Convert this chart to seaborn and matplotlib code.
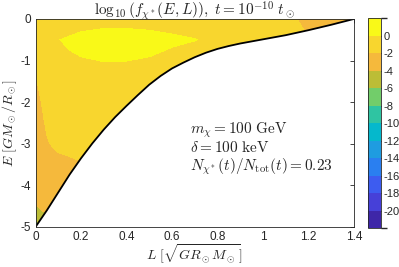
import numpy as np
import matplotlib
matplotlib.use("Agg")
import matplotlib.pyplot as plt
from matplotlib.colors import ListedColormap, BoundaryNorm
from matplotlib.patches import Polygon
import seaborn as sns

sns.set_theme(style="white")
plt.rcParams['font.family'] = ['Liberation Sans', 'DejaVu Sans']
plt.rcParams['mathtext.fontset'] = 'cm'

# ---- data ----
L_grid = [0, 0.05, 0.1, 0.15, 0.2, 0.3, 0.4, 0.5, 0.6, 0.7, 0.8, 0.9, 1.0, 1.1, 1.2, 1.3, 1.4]
E_grid = [-5, -4.75, -4.5, -4, -3.5, -3, -2.5, -2, -1.5, -1.25, -1, -0.75, -0.5, -0.25, 0]
row_m5_00 = [-7.0, -6.0, -5.0, -4.5, -4.0, -3.5, -3.0, -3.0, -3.0, -3.0, -3.0, -3.0, -3.0, -3.0, -3.0, -3.0, -3.0]
row_m4_75 = [-5.2, -4.2, -3.6, -3.4, -3.2, -3.0, -2.8, -2.8, -2.8, -2.8, -2.8, -2.8, -2.8, -2.8, -2.8, -2.8, -2.8]
row_m4_50 = [-4.1, -3.3, -3.0, -2.9, -2.8, -2.6, -2.5, -2.5, -2.5, -2.5, -2.5, -2.5, -2.5, -2.5, -2.5, -2.5, -2.5]
row_m4_00 = [-3.5, -3.0, -2.6, -2.5, -2.4, -2.2, -2.1, -2.1, -2.1, -2.1, -2.1, -2.1, -2.1, -2.1, -2.1, -2.1, -2.1]
row_m3_50 = [-3.0, -2.6, -2.4, -2.25, -2.1, -1.8, -1.6, -1.5, -1.5, -1.5, -1.5, -1.5, -1.5, -1.5, -1.5, -1.5, -1.5]
row_m3_00 = [-2.8, -2.1, -1.7, -1.6, -1.5, -1.3, -1.2, -1.2, -1.2, -1.2, -1.2, -1.2, -1.2, -1.2, -1.2, -1.2, -1.2]
row_m2_50 = [-2.6, -1.85, -1.5, -1.35, -1.2, -1.1, -1.1, -1.1, -1.1, -1.1, -1.1, -1.1, -1.1, -1.1, -1.1, -1.1, -1.1]
row_m2_00 = [-2.4, -1.6, -1.3, -1.15, -1.0, -0.9, -0.9, -1.0, -1.0, -1.0, -1.0, -1.0, -1.0, -1.0, -1.0, -1.0, -1.0]
row_m1_50 = [-2.1, -1.4, -1.1, -0.9, -0.8, -0.7, -0.7, -0.8, -1.0, -1.0, -1.0, -1.0, -1.0, -1.0, -1.0, -1.0, -1.0]
row_m1_25 = [-1.95, -1.3, -1.0, -0.8, -0.6, -0.4, -0.4, -0.6, -0.8, -1.0, -1.0, -1.0, -1.0, -1.0, -1.0, -1.0, -1.0]
row_m1_00 = [-1.8, -1.2, -1.0, -0.6, -0.17, 0.05, 0.02, -0.17, -0.5, -0.8, -1.0, -1.0, -1.0, -1.0, -1.2, -1.5, -1.5]
row_m0_75 = [-1.6, -1.2, -0.6, 0.0, 0.3, 0.5, 0.5, 0.3, -0.12, -0.4, -0.7, -0.9, -1.0, -1.2, -1.5, -2.0, -2.0]
row_m0_50 = [-1.4, -0.9, -0.05, 0.3, 0.5, 0.6, 0.6, 0.5, 0.3, 0.05, -0.4, -0.7, -0.9, -1.2, -1.8, -2.4, -2.6]
row_m0_25 = [-1.3, -1.0, -0.8, -0.55, -0.15, 0.05, 0.05, -0.05, -0.25, -0.45, -0.8, -0.9, -1.0, -1.3, -2.2, -2.6, -3.0]
row_p0_00 = [-1.2, -1.0, -0.8, -0.7, -0.6, -0.6, -0.6, -0.6, -0.7, -0.8, -0.9, -1.0, -1.1, -1.6, -2.4, -3.0, -3.0]

# boundary curve (circular-orbit angular momentum)
L_curve = [0, 0.05, 0.1, 0.15, 0.2, 0.25, 0.3, 0.35, 0.4, 0.45, 0.5, 0.55, 0.6,
           0.65, 0.7, 0.75, 0.8, 0.85, 0.9, 0.95, 1.0, 1.1, 1.2, 1.3, 1.4]
E_curve = [-5, -4.6, -4.17, -3.74, -3.35, -2.99, -2.66, -2.36, -2.09, -1.83, -1.58, -1.37, -1.19,
           -1.05, -0.92, -0.81, -0.72, -0.65, -0.59, -0.54, -0.49, -0.39, -0.27, -0.14, 0.0]

levels = list(range(-22, 3, 2))
level_colors = ['#3e26a8', '#4640d8', '#3d5cf0', '#2a7ff0', '#1f9ce0', '#05b8cc',
                '#2fc4a2', '#72cd6a', '#bcbd36', '#f5b93c', '#f8d62e', '#f9f918']
cbar_ticks = list(range(-20, 1, 2))

# ---- figure ----
fig = plt.figure(figsize=(3.99, 2.67), dpi=100)
ax = fig.add_axes([0.089, 0.150, 0.798, 0.779])
cax = fig.add_axes([0.922, 0.145, 0.033, 0.787])

Z = np.array([row_m5_00, row_m4_75, row_m4_50, row_m4_00, row_m3_50, row_m3_00,
              row_m2_50, row_m2_00, row_m1_50, row_m1_25, row_m1_00, row_m0_75,
              row_m0_50, row_m0_25, row_p0_00])
cmap = ListedColormap(level_colors)
norm = BoundaryNorm(levels, cmap.N)
cs = ax.contourf(L_grid, E_grid, Z, levels=levels, cmap=cmap, norm=norm)

poly = np.column_stack([L_curve + [0.0], E_curve + [0.0]])
clip = Polygon(poly, closed=True, transform=ax.transData, facecolor='none', edgecolor='none')
ax.add_patch(clip)
cs.set_clip_path(clip)

sns.lineplot(x=L_curve, y=E_curve, color='black', lw=1.3, ax=ax, estimator=None, sort=False)

ax.set_xlim(0, 1.4)
ax.set_ylim(-5, 0)
xt = [0, 0.2, 0.4, 0.6, 0.8, 1.0, 1.2, 1.4]
ax.set_xticks(xt)
ax.set_xticklabels(['0', '0.2', '0.4', '0.6', '0.8', '1', '1.2', '1.4'])
yt = [-5, -4, -3, -2, -1, 0]
ax.set_yticks(yt)
ax.set_yticklabels(['-5', '-4', '-3', '-2', '-1', '0'])
ax.tick_params(direction='in', length=3, width=0.6, top=True, right=True,
               labelsize=8.5, colors='#262626', pad=3)
for s in ax.spines.values():
    s.set_color('#262626')
    s.set_linewidth(0.6)

ax.set_title(r'$\log_{10}(f_{\chi^*}(E,L)),\ t=10^{-10}\ t_\odot$', fontsize=11, pad=3)
ax.set_xlabel(r'$L\ [\sqrt{GR_\odot M_\odot}]$', fontsize=10, labelpad=0)
ax.set_ylabel(r'$E\ [GM_\odot/R_\odot]$', fontsize=10, labelpad=1)

ax.text(0.68, -2.67, r'$m_\chi = 100\ \mathrm{GeV}$', fontsize=11, va='center')
ax.text(0.68, -3.10, r'$\delta = 100\ \mathrm{keV}$', fontsize=11, va='center')
ax.text(0.68, -3.55, r'$N_{\chi^*}(t)/N_{\rm tot}(t) = 0.23$', fontsize=11, va='center')

cb = fig.colorbar(cs, cax=cax, ticks=cbar_ticks)
cb.ax.set_yticklabels([str(t) for t in cbar_ticks])
cb.ax.tick_params(direction='in', length=2, width=0.6, labelsize=8, colors='#262626', pad=2)
cb.outline.set_linewidth(0.6)
cb.outline.set_edgecolor('#262626')

fig.savefig('out.png', dpi=100)
